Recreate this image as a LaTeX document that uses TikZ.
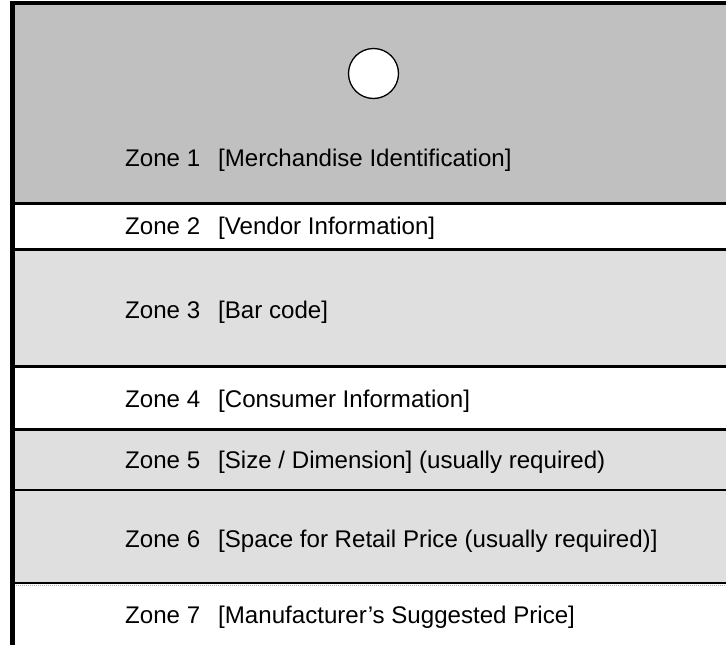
\documentclass[tikz,border=0pt]{standalone}
\usepackage{fontspec}
\setmainfont{Liberation Sans}
\begin{document}
\begin{tikzpicture}[x=1pt,y=-1pt,
  zonelbl/.style={anchor=base west,inner sep=0pt,font=\fontsize{24.1}{28}\selectfont},
  thickrule/.style={line width=3pt},
  thinrule/.style={line width=1.2pt}]
\definecolor{darkzone}{HTML}{C0C0C0}
\definecolor{lightzone}{HTML}{DFDFDF}
\useasboundingbox (0,0) rectangle (726,645);
% fills
\fill[darkzone] (12,3) rectangle (726,203.5);
\fill[white] (12,203.5) rectangle (726,249.5);
\fill[lightzone] (12,249.5) rectangle (726,366);
\fill[white] (12,366) rectangle (726,429.5);
\fill[lightzone] (12,429.5) rectangle (726,583);
\fill[white] (12,583) rectangle (726,645);
% rules
\draw[thickrule] (12,203.5) -- (726,203.5);
\draw[thickrule] (12,249.5) -- (726,249.5);
\draw[thickrule] (12,366) -- (726,366);
\draw[thickrule] (12,429.5) -- (726,429.5);
\draw[thinrule] (12,490) -- (726,490);
\draw[line width=1.5pt] (12,583) -- (726,583);
\draw[gray!60,line width=0.8pt,dash pattern=on 1pt off 1pt] (12,585) -- (726,585);
% frame
\draw[line width=4.5pt] (12.25,645) -- (12.25,3) -- (726,3);
% circle
\node[circle,draw,line width=1.3pt,fill=white,minimum size=50pt,inner sep=0pt] (hole) at (373.5,73.5) {};
% labels
\node[zonelbl] (z1) at (125,166) {Zone 1};
\node[zonelbl] (t1) at (218,166) {[Merchandise Identification]};
\node[zonelbl] (z2) at (125,234) {Zone 2};
\node[zonelbl] (t2) at (218,234) {[Vendor Information]};
\node[zonelbl] (z3) at (125,318) {Zone 3};
\node[zonelbl] (t3) at (218,318) {[Bar code]};
\node[zonelbl] (z4) at (125,407) {Zone 4};
\node[zonelbl] (t4) at (218,407) {[Consumer Information]};
\node[zonelbl] (z5) at (125,468) {Zone 5};
\node[zonelbl] (t5) at (218,468) {[Size / Dimension] (usually required)};
\node[zonelbl] (z6) at (125,547) {Zone 6};
\node[zonelbl] (t6) at (218,547) {[Space for Retail Price (usually required)]};
\node[zonelbl] (z7) at (125,623) {Zone 7};
\node[zonelbl] (t7) at (218,623) {[Manufacturer’s Suggested Price]};
\end{tikzpicture}
\end{document}
